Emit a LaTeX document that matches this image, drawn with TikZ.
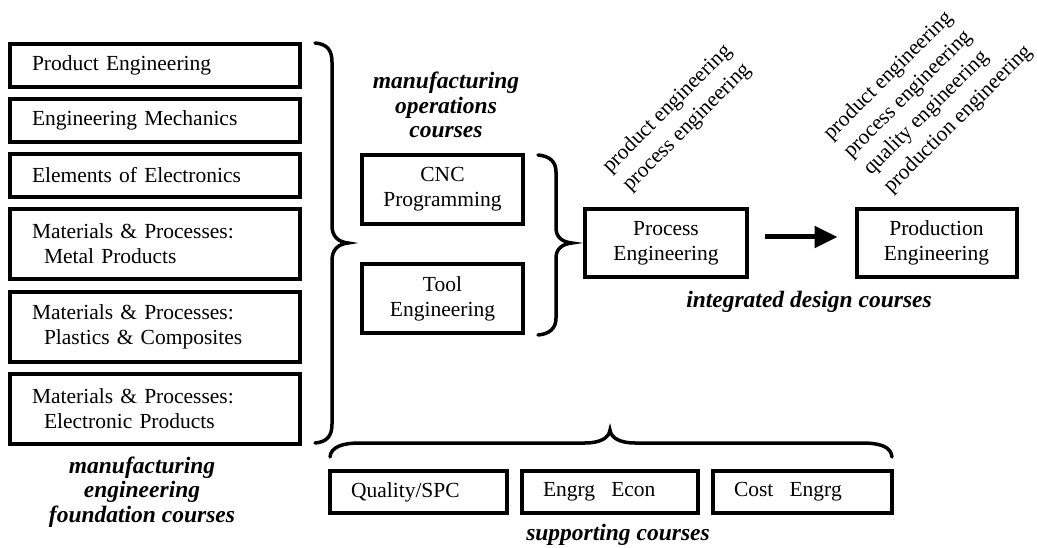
\documentclass[tikz,border=0pt]{standalone}
\usepackage{fontspec}
\setmainfont{Liberation Serif}
\usetikzlibrary{arrows.meta}
\newcommand{\coursefont}{\fontsize{21.5}{25}\selectfont}
\newcommand{\groupfont}{\fontsize{23.5}{24.5}\selectfont\bfseries\itshape}
\begin{document}
\begin{tikzpicture}[x=1pt,y=-1pt,
  leftbox/.style={draw, line width=4pt, text width=246pt, inner xsep=22pt,
    inner ysep=0pt, minimum height=#1, align=left, font=\coursefont},
  leftbox/.default=43pt,
  midbox/.style={draw, line width=4pt, inner sep=0pt, minimum width=#1,
    minimum height=69pt, align=center, font=\coursefont},
  midbox/.default=161pt,
  lowbox/.style={draw, line width=4pt, text width=#1, inner xsep=21pt,
    inner ysep=0pt, minimum height=42pt, align=left, font=\coursefont},
  group/.style={font=\groupfont, align=center, inner sep=0pt},
  slant/.style={rotate=45, anchor=base west, inner sep=0pt, font=\coursefont},
  brace/.style={line width=3.5pt, line cap=round},
  flow/.style={line width=5pt, -{Triangle[length=23pt,width=21pt]}}]
\useasboundingbox (0,0) rectangle (1037,548);

% foundation courses
\node[leftbox] (pe)  at (155,65.5) {Product Engineering};
\node[leftbox] (em)  at (155,120.5) {Engineering Mechanics};
\node[leftbox] (ee)  at (155,175.5) {Elements of Electronics};
\node[leftbox=70pt] (mp1) at (155,244) {Materials \& Processes:\\\hspace*{12pt}Metal Products};
\node[leftbox=70pt] (mp2) at (155,327) {Materials \& Processes:\\\hspace*{12pt}Plastics \& Composites};
\node[leftbox=70pt] (mp3) at (155,409) {Materials \& Processes:\\\hspace*{12pt}Electronic Products};
\node[group] (fnd) at (142,492) {manufacturing\\engineering\\foundation courses};

% operations courses
\node[group] (ops) at (446,105) {manufacturing\\operations\\courses};
\node[midbox] (cnc)  at (442.5,189.5) {CNC\\Programming};
\node[midbox] (tool) at (442.5,298.5) {Tool\\Engineering};

% integrated design courses
\node[midbox=162pt, minimum height=68pt] (proc) at (666,243) {Process\\Engineering};
\node[midbox=160pt, minimum height=68pt] (prod) at (936.5,243) {Production\\Engineering};
\node[group] (integ) at (809,302) {integrated design courses};
\draw[flow, shorten <=16pt, shorten >=17pt] ([yshift=6pt]proc.east) -- ([yshift=6pt]prod.west);

% disciplines covered by each design course
\node[slant] (pa) at (610,174) {product engineering};
\node[slant] (pb) at (630,192) {process engineering};
\node[slant] (qa) at (831,141) {product engineering};
\node[slant] (qb) at (851,159) {process engineering};
\node[slant] (qc) at (871,176) {quality engineering};
\node[slant] (qd) at (891,194) {production engineering};

% supporting courses
\node[lowbox=135pt] (spc)  at (418.5,492) {Quality/SPC};
\node[lowbox=134pt] (econ) at (610,492) {Engrg\hspace{9pt} Econ};
\node[lowbox=137pt] (cost) at (802.5,492) {Cost\hspace{9pt} Engrg};
\node[group] (sup) at (618,535) {supporting courses};

% braces
\draw[brace] (315,43) .. controls (327,44) and (332,50) .. (332,62)
  -- (332,226) .. controls (332,236) and (338,242) .. (348,243)
  .. controls (338,244) and (332,250) .. (332,260)
  -- (332,424) .. controls (332,436) and (327,442) .. (315,443);
\draw[brace] (538,155) .. controls (550,156) and (556,162) .. (556,172)
  -- (556,228) .. controls (556,237) and (562,242) .. (572,243)
  .. controls (562,244) and (556,249) .. (556,258)
  -- (556,318) .. controls (556,328) and (550,334) .. (538,335);
\draw[brace] (330,457) .. controls (331,447) and (342,443) .. (360,443)
  -- (585,443) .. controls (600,443) and (609,438) .. (610,430)
  .. controls (611,438) and (620,443) .. (635,443)
  -- (862,443) .. controls (881,443) and (891,447) .. (892,457);
\end{tikzpicture}
\end{document}
